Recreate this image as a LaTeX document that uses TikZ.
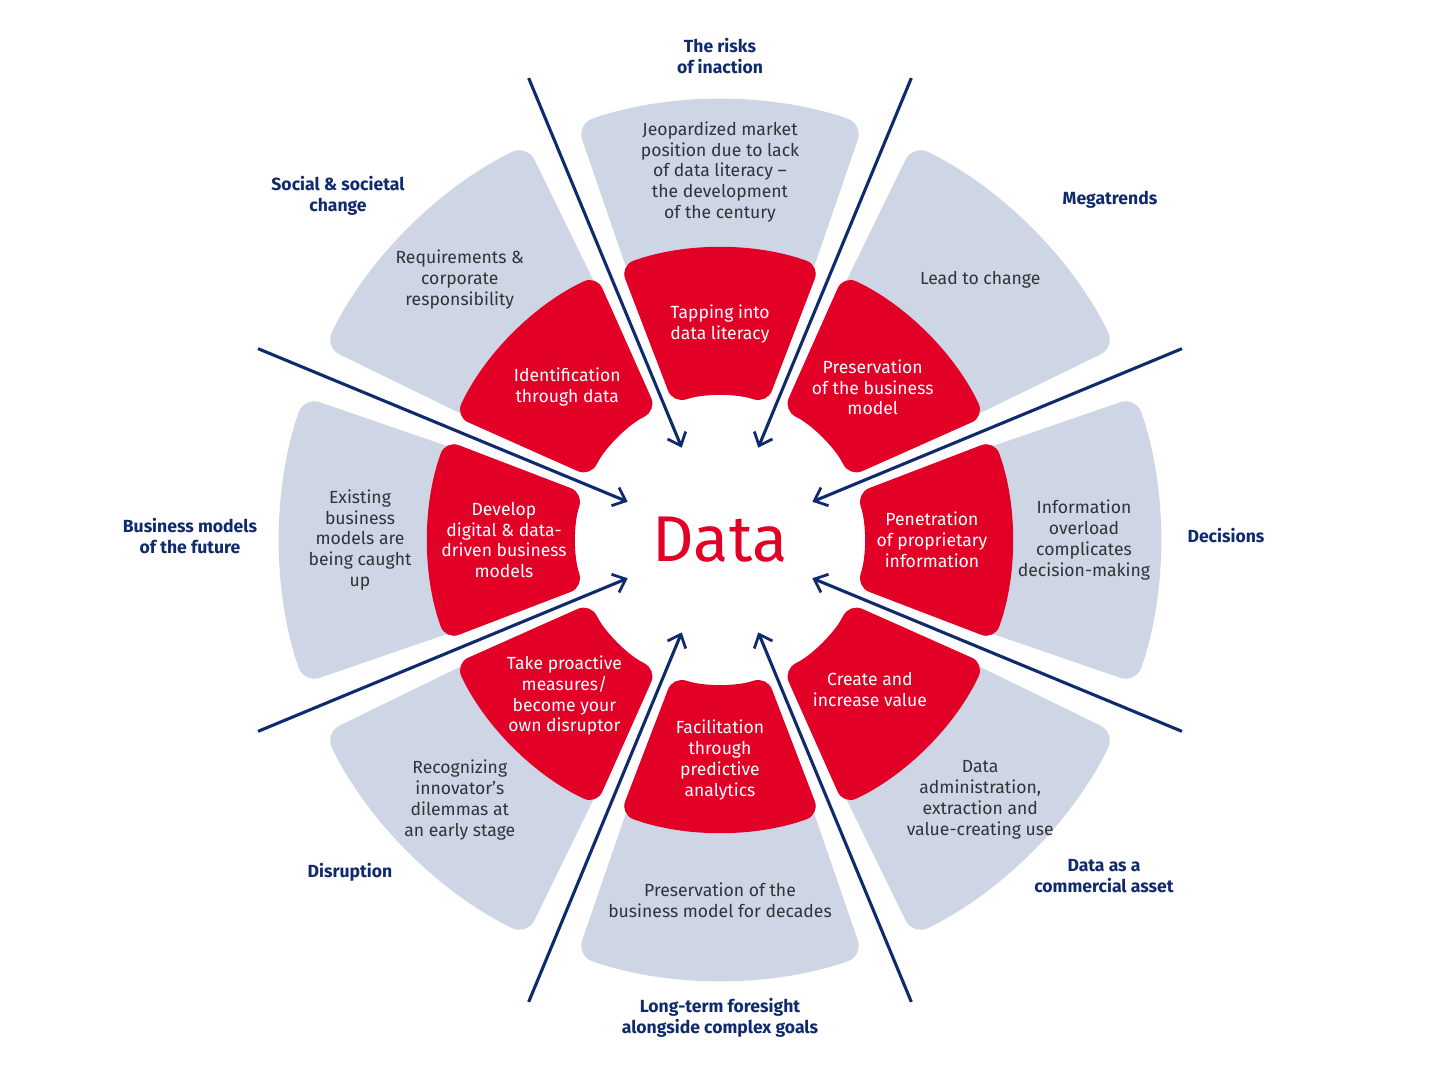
\documentclass[tikz,border=0pt]{standalone}
\usepackage{fontspec}
\setmainfont{Fira Sans}
\usetikzlibrary{arrows.meta}
\definecolor{segGrey}{RGB}{206,213,228}
\definecolor{segRed}{RGB}{226,0,38}
\definecolor{navy}{RGB}{16,42,110}
\definecolor{txtGrey}{RGB}{50,50,55}
\begin{document}
\begin{tikzpicture}[
    outer label/.style={font=\fontsize{12.5}{14.9}\selectfont\bfseries, text=navy, align=center},
    grey label/.style={font=\fontsize{12.5}{14.9}\selectfont, text=txtGrey, align=center},
    red label/.style={font=\fontsize{12.5}{14.9}\selectfont, text=white, align=center},
    flow/.style={navy, line width=2.2pt, -{Straight Barb[length=8pt,width=14pt,line width=2pt]}}]
    \useasboundingbox (-18,-13.45) rectangle (18,13.5);

    % grey and red ring segments
    \foreach \a in {90,45,0,-45,-90,-135,180,135} {
        \fill[segGrey, rounded corners=12pt] (\a-19:3.6cm) arc[start angle=\a-19, end angle=\a+19, radius=3.6cm]
            -- (\a+19:11cm) arc[start angle=\a+19, end angle=\a-19, radius=11cm] -- cycle;
    }
    \foreach \a in {90,45,0,-45,-90,-135,180,135} {
        \fill[segRed, rounded corners=10pt] (\a-19:3.6cm) arc[start angle=\a-19, end angle=\a+19, radius=3.6cm]
            -- (\a+20:7.3cm) arc[start angle=\a+20, end angle=\a-20, radius=7.3cm] -- cycle;
    }

    % arrows in the gaps
    \foreach \a [count=\i] in {112.5,67.5,22.5,-22.5,-67.5,-112.5,-157.5,157.5} {
        \coordinate (s\i) at (\a:12.5cm);
        \coordinate (e\i) at (\a:2.5cm);
        \draw[flow] (s\i) -- (e\i);
    }

    \node[text=segRed, font=\fontsize{46}{50}\selectfont] (data) at (0,0) {Data};

    % red segment texts
    \node[red label] (r1) at (90:5.4cm) {Tapping into\\data literacy};
    \node[red label] (r2) at (45:5.4cm) {Preservation\\of the business\\model};
    \node[red label] (r3) at (0:5.3cm) {Penetration\\of proprietary\\information};
    \node[red label] (r4) at (-45:5.3cm) {Create and\\increase value};
    \node[red label] (r5) at (-90:5.5cm) {Facilitation\\through\\predictive\\analytics};
    \node[red label] (r6) at (-135:5.5cm) {Take proactive\\measures/\\become your\\own disruptor};
    \node[red label] (r7) at (180:5.4cm) {Develop\\digital \& data-\\driven business\\models};
    \node[red label] (r8) at (135:5.4cm) {Identification\\through data};

    % grey segment texts
    \node[grey label] (g1) at (90:9.2cm) {Jeopardized market\\position due to lack\\of data literacy –\\the development\\of the century};
    \node[grey label] (g2) at (45:9.2cm) {Lead to change};
    \node[grey label] (g3) at (0:9.1cm) {Information\\overload\\complicates\\decision-making};
    \node[grey label] (g4) at (-45:9.2cm) {Data\\administration,\\extraction and\\value-creating use};
    \node[grey label] (g5) at (-90:9.0cm) {Preservation of the\\business model for decades};
    \node[grey label] (g6) at (-135:9.2cm) {Recognizing\\innovator's\\dilemmas at\\an early stage};
    \node[grey label] (g7) at (180:9.0cm) {Existing\\business\\models are\\being caught\\up};
    \node[grey label] (g8) at (135:9.2cm) {Requirements \&\\corporate\\responsibility};

    % outer labels
    \node[outer label] (o1) at (0,12.1) {The risks\\of inaction};
    \node[outer label] (o2) at (9.75,8.5) {Megatrends};
    \node[outer label] (o3) at (12.65,0.1) {Decisions};
    \node[outer label] (o4) at (9.6,-8.4) {Data as a\\commercial asset};
    \node[outer label] (o5) at (0,-11.95) {Long-term foresight\\alongside complex goals};
    \node[outer label] (o6) at (-9.25,-8.3) {Disruption};
    \node[outer label] (o7) at (-13.25,0.1) {Business models\\of the future};
    \node[outer label] (o8) at (-9.55,8.6) {Social \& societal\\change};
\end{tikzpicture}
\end{document}
